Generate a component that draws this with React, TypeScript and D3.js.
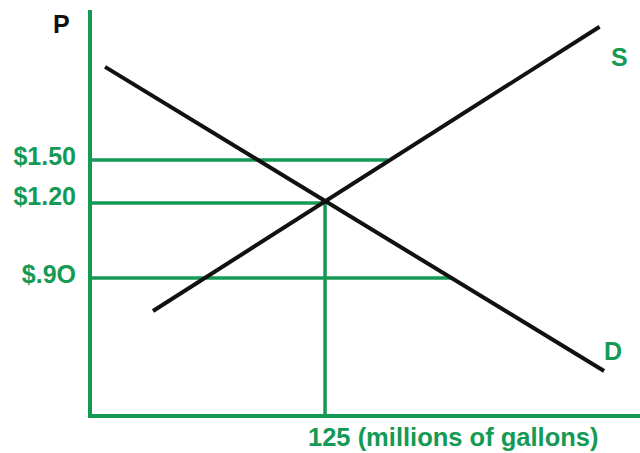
import React from "react";
import * as d3 from "d3";

const W = 640;
const H = 453;

// Price levels marked on the vertical axis (schematic, non-linear spacing)
const priceLevels = [0.9, 1.2, 1.5];
const priceLabels = ["$.9O", "$1.20", "$1.50"];
// Quantity where each price guide meets the curve
const guideEnds = [192.5, 125, 158.5];

const eqQuantity = 125;
const eqPrice = 1.2;
const quantityLabel = "125 (millions of gallons)";

// Supply and demand end points [quantity, price]
const supplyPts: [number, number][] = [[33.5, 0.768], [271, 2.43]];
const demandPts: [number, number][] = [[8, 2.15], [273.4, 0.528]];

const GREEN = "#159a55";

export default function App() {
  const x = d3.scaleLinear().domain([0, 292.5]).range([90, 640]);
  const y = d3.scaleLinear().domain([0.9, 1.2, 1.5]).range([278, 203, 160]);
  const axisY = 416;
  const topY = 10;
  const line = d3
    .line<[number, number]>()
    .x((d) => x(d[0]))
    .y((d) => y(d[1]));

  const labelDy = [4.5, 1.5, 4.5];

  return (
    <svg
      width={W}
      height={H}
      style={{ position: "absolute", left: 0, top: 0, background: "#fff" }}
      fontFamily="'Liberation Sans', Arial, sans-serif"
      fontWeight="bold"
    >
      {/* guides */}
      {priceLevels.map((p, i) => (
        <line
          key={p}
          x1={x(0)}
          x2={x(guideEnds[i])}
          y1={y(p)}
          y2={y(p)}
          stroke={GREEN}
          strokeWidth={3.5}
        />
      ))}
      <line
        x1={x(eqQuantity)}
        x2={x(eqQuantity)}
        y1={y(eqPrice)}
        y2={axisY}
        stroke={GREEN}
        strokeWidth={3.5}
      />
      {/* axes */}
      <line x1={x(0)} x2={x(0)} y1={topY} y2={axisY + 2} stroke={GREEN} strokeWidth={4} />
      <line x1={x(0) - 2} x2={W} y1={axisY} y2={axisY} stroke={GREEN} strokeWidth={4} />
      {/* curves */}
      <path d={line(supplyPts) || ""} stroke="#111" strokeWidth={4} fill="none" />
      <path d={line(demandPts) || ""} stroke="#111" strokeWidth={4} fill="none" />
      {/* labels */}
      {priceLevels.map((p, i) => (
        <text
          key={"l" + p}
          x={76}
          y={y(p) + labelDy[i]}
          textAnchor="end"
          fontSize={25}
          fill={GREEN}
        >
          {priceLabels[i]}
        </text>
      ))}
      <text x={53} y={33} fontSize={25} fill="#111">
        P
      </text>
      <text x={611} y={66} fontSize={25} fill={GREEN}>
        S
      </text>
      <text x={604} y={360} fontSize={25} fill={GREEN}>
        D
      </text>
      <text x={308} y={446} fontSize={25.5} fill={GREEN}>
        {quantityLabel}
      </text>
    </svg>
  );
}
